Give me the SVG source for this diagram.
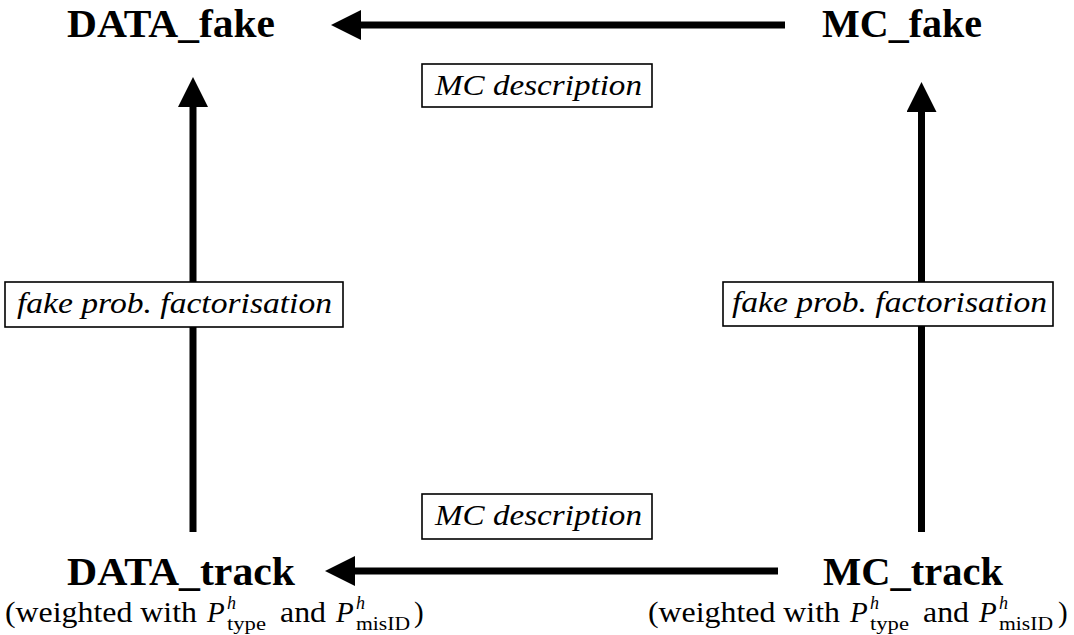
<svg xmlns="http://www.w3.org/2000/svg" width="1074" height="635" viewBox="0 0 1074 635">
  <style>
    .node { font-weight: bold; font-size: 40px; fill: #000; }
    .note { font-size: 29px; fill: #000; }
    .note .cal { font-style: italic; }
    .note .scr { font-size: 18px; }
    .lbl { font-style: italic; font-size: 29px; fill: #000; }
    .box { fill: #fff; stroke: #000; stroke-width: 1.6; }
    .edge { fill: none; stroke: #000; stroke-width: 7; }
  </style>
  <defs>
    <marker id="head" markerUnits="userSpaceOnUse" markerWidth="30" markerHeight="30" refX="0" refY="15" orient="auto">
      <path d="M0,0 L30,15 L0,30 Z" fill="#000"/>
    </marker>
  </defs>
  <rect width="1074" height="635" fill="#fff"/>

  <!-- connectors -->
  <g id="connectors">
    <path class="edge" d="M785,25 L361,25" marker-end="url(#head)"/>
    <path class="edge" d="M778,571 L355,571" marker-end="url(#head)"/>
    <path class="edge" d="M193,532 L193,107" marker-end="url(#head)"/>
    <path class="edge" d="M921.5,532 L921.5,112" marker-end="url(#head)"/>
  </g>

  <g font-family="Liberation Serif, DejaVu Serif, serif">
    <!-- edge labels -->
    <g id="label-top">
      <rect class="box" x="422" y="64" width="230" height="43"/>
      <text class="lbl" x="435" y="95" textLength="207" lengthAdjust="spacingAndGlyphs">MC description</text>
    </g>
    <g id="label-bottom">
      <rect class="box" x="422" y="494" width="230" height="45"/>
      <text class="lbl" x="435" y="525" textLength="207" lengthAdjust="spacingAndGlyphs">MC description</text>
    </g>
    <g id="label-left">
      <rect class="box" x="5" y="282" width="338" height="45"/>
      <text class="lbl" x="17" y="313" textLength="315" lengthAdjust="spacingAndGlyphs">fake prob. factorisation</text>
    </g>
    <g id="label-right">
      <rect class="box" x="723" y="282" width="330" height="44"/>
      <text class="lbl" x="732" y="312" textLength="315" lengthAdjust="spacingAndGlyphs">fake prob. factorisation</text>
    </g>

    <!-- nodes -->
    <g id="data-fake">
      <text class="node" x="67" y="37" textLength="208" lengthAdjust="spacingAndGlyphs">DATA_fake</text>
    </g>
    <g id="mc-fake">
      <text class="node" x="822" y="37" textLength="160" lengthAdjust="spacingAndGlyphs">MC_fake</text>
    </g>
    <g id="data-track">
      <text class="node" x="67" y="585" textLength="228" lengthAdjust="spacingAndGlyphs">DATA_track</text>
      <text class="note" y="622">
        <tspan x="5" textLength="192" lengthAdjust="spacingAndGlyphs">(weighted with</tspan>
        <tspan class="cal" x="207">P</tspan>
        <tspan class="scr cal" x="227" y="609">h</tspan>
        <tspan class="scr" x="227" y="630" textLength="39" lengthAdjust="spacingAndGlyphs">type</tspan>
        <tspan x="280" y="622" textLength="46" lengthAdjust="spacingAndGlyphs">and</tspan>
        <tspan class="cal" x="336">P</tspan>
        <tspan class="scr cal" x="356" y="609">h</tspan>
        <tspan class="scr" x="356" y="630" textLength="54" lengthAdjust="spacingAndGlyphs">misID</tspan>
        <tspan x="414" y="622">)</tspan>
      </text>
    </g>
    <g id="mc-track">
      <text class="node" x="823" y="585" textLength="180" lengthAdjust="spacingAndGlyphs">MC_track</text>
      <text class="note" y="622">
        <tspan x="648" textLength="192" lengthAdjust="spacingAndGlyphs">(weighted with</tspan>
        <tspan class="cal" x="850">P</tspan>
        <tspan class="scr cal" x="870" y="609">h</tspan>
        <tspan class="scr" x="870" y="630" textLength="39" lengthAdjust="spacingAndGlyphs">type</tspan>
        <tspan x="923" y="622" textLength="46" lengthAdjust="spacingAndGlyphs">and</tspan>
        <tspan class="cal" x="979">P</tspan>
        <tspan class="scr cal" x="999" y="609">h</tspan>
        <tspan class="scr" x="999" y="630" textLength="54" lengthAdjust="spacingAndGlyphs">misID</tspan>
        <tspan x="1058" y="622">)</tspan>
      </text>
    </g>
  </g>
</svg>
